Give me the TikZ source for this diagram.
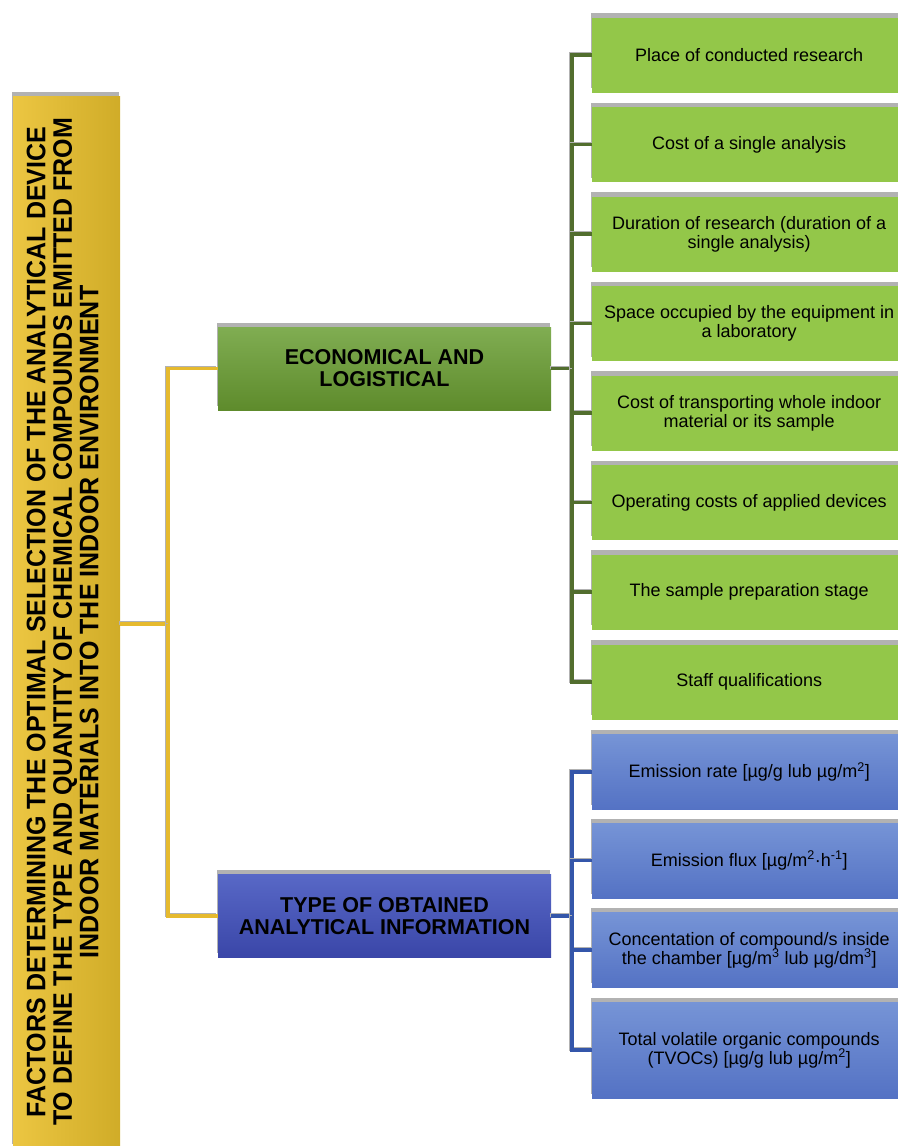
\documentclass[tikz,border=0pt]{standalone}
\usepackage{fontspec}
\setmainfont{Liberation Sans}
\usepackage{tikz}
\usetikzlibrary{shadows}
\definecolor{barlight}{RGB}{236,198,66}
\definecolor{bardark}{RGB}{208,172,40}
\definecolor{barline}{RGB}{230,186,46}
\definecolor{econtop}{RGB}{128,173,82}
\definecolor{econbot}{RGB}{94,139,44}
\definecolor{econleaf}{RGB}{147,199,73}
\definecolor{econline}{RGB}{82,110,46}
\definecolor{infotop}{RGB}{88,104,198}
\definecolor{infobot}{RGB}{58,70,168}
\definecolor{infoleaftop}{RGB}{118,148,214}
\definecolor{infoleafbot}{RGB}{84,114,196}
\definecolor{infoline}{RGB}{52,86,170}
\tikzset{%
    boxshadow/.style={drop shadow={shadow xshift=-1.5pt,shadow yshift=4.5pt,fill=black,opacity=0.3}},
    rootbar/.style={boxshadow,left color=barlight,right color=bardark,
        minimum width=107pt,minimum height=1052pt,inner sep=0pt,
        font=\bfseries\fontsize{25}{24.5}\selectfont},
    midbox/.style={boxshadow,minimum width=333pt,minimum height=83pt,inner sep=2pt,
        align=center,font=\bfseries\fontsize{21.5}{22}\selectfont},
    econbox/.style={midbox,top color=econtop,bottom color=econbot},
    infobox/.style={midbox,top color=infotop,bottom color=infobot},
    leaf/.style={boxshadow,anchor=west,minimum width=314pt,minimum height=75pt,inner sep=2pt,
        align=center,font=\fontsize{18}{19}\selectfont},
    econleafbox/.style={leaf,fill=econleaf},
    infoleafbox/.style={leaf,top color=infoleaftop,bottom color=infoleafbot},
    link/.style={line width=3.5pt,
        preaction={draw=black!30,line width=3.5pt,transform canvas={xshift=-1.5pt,yshift=1pt}}},
}
\begin{document}
\begin{tikzpicture}[x=1pt,y=-1pt]
    \useasboundingbox (0,0) rectangle (897,1146);
    % root bar
    \node[rootbar] (root) at (66.5,622) {\rotatebox{90}{\scalebox{1}[1.07]{\begin{tabular}{@{}c@{}}
        FACTORS DETERMINING THE OPTIMAL SELECTION OF THE ANALYTICAL DEVICE\\
        TO DEFINE THE TYPE AND QUANTITY OF CHEMICAL COMPOUNDS EMITTED FROM\\
        INDOOR MATERIALS INTO THE INDOOR ENVIRONMENT\end{tabular}}}};
    % two groups
    \node[econbox] (econ) at (384.5,368.5) {ECONOMICAL AND\\LOGISTICAL};
    \node[infobox] (info) at (384.5,916) {TYPE OF OBTAINED\\ANALYTICAL INFORMATION};
    % economical and logistical factors
    \node[econleafbox] (e1) at (592,55) {Place of conducted research};
    \node[econleafbox] (e2) at (592,144.5) {Cost of a single analysis};
    \node[econleafbox] (e3) at (592,234) {Duration of research (duration of a\\single analysis)};
    \node[econleafbox] (e4) at (592,323.5) {Space occupied by the equipment in\\a laboratory};
    \node[econleafbox] (e5) at (592,413) {Cost of transporting whole indoor\\material or its sample};
    \node[econleafbox] (e6) at (592,502.5) {Operating costs of applied devices};
    \node[econleafbox] (e7) at (592,592) {The sample preparation stage};
    \node[econleafbox] (e8) at (592,682) {Staff qualifications};
    % analytical information
    \node[infoleafbox] (i1) at (592,772) {Emission rate [µg/g lub µg/m\textsuperscript{2}]};
    \node[infoleafbox] (i2) at (592,860.5) {Emission flux [µg/m\textsuperscript{2}·h\textsuperscript{-1}]};
    \node[infoleafbox] (i3) at (592,950) {Concentation of compound/s inside\\the chamber [µg/m\textsuperscript{3} lub µg/dm\textsuperscript{3}]};
    \node[infoleafbox,minimum height=96pt] (i4) at (592,1050) {Total volatile organic compounds\\(TVOCs) [µg/g lub µg/m\textsuperscript{2}]};
    % connectors
    \draw[link,barline] (root.east |- 0,624) -- (168,624) coordinate (rj);
    \draw[link,barline] (econ.west) -| (rj);
    \draw[link,barline] (info.west) -| (rj);
    \draw[link,econline] (econ.east) -- ++(21,0) coordinate (ej);
    \draw[link,econline] (e1.west) -| (ej);
    \draw[link,econline] (e2.west) -| (ej);
    \draw[link,econline] (e3.west) -| (ej);
    \draw[link,econline] (e4.west) -| (ej);
    \draw[link,econline] (e5.west) -| (ej);
    \draw[link,econline] (e6.west) -| (ej);
    \draw[link,econline] (e7.west) -| (ej);
    \draw[link,econline] (e8.west) -| (ej);
    \draw[link,infoline] (info.east) -- ++(21,0) coordinate (ij);
    \draw[link,infoline] (i1.west) -| (ij);
    \draw[link,infoline] (i2.west) -| (ij);
    \draw[link,infoline] (i3.west) -| (ij);
    \draw[link,infoline] (i4.west) -| (ij);
\end{tikzpicture}
\end{document}
